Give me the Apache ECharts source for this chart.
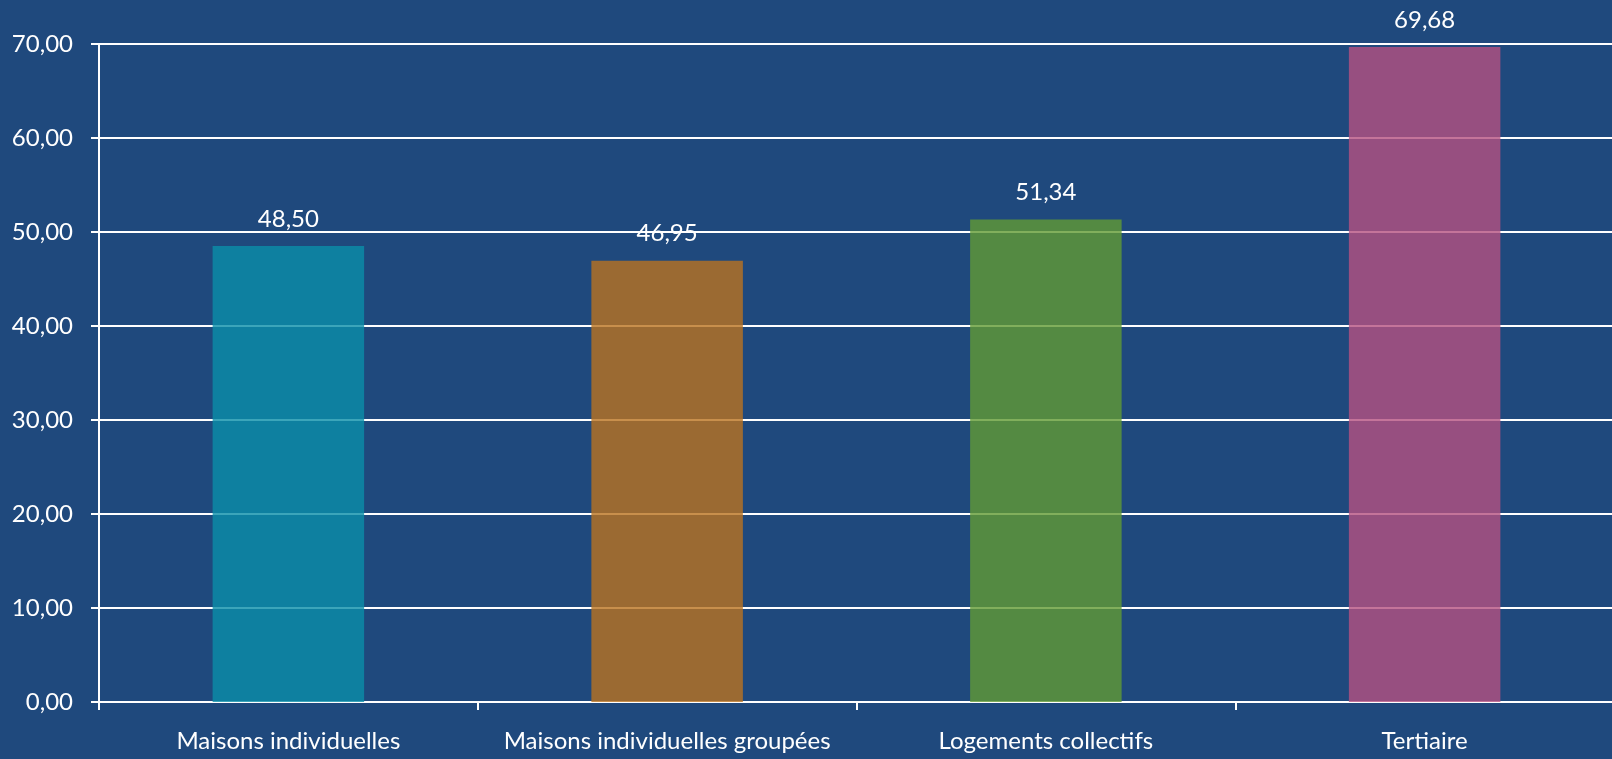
<!DOCTYPE html>
<html>
<head>
<meta charset="utf-8">
<script src="https://cdn.jsdelivr.net/npm/echarts@6/dist/echarts.min.js"></script>
<style>
html,body{margin:0;padding:0;background:#1F497D;}
#chart{width:1612px;height:759px;}
</style>
</head>
<body>
<div id="chart"></div>
<script>
const categories = ['Maisons individuelles', 'Maisons individuelles groupées', 'Logements collectifs', 'Tertiaire'];
const values = [48.50, 46.95, 51.34, 69.68];
const barColors = ['rgba(10,143,169,0.8)', 'rgba(186,115,31,0.8)', 'rgba(97,155,51,0.8)', 'rgba(181,81,129,0.8)'];
const yTicks = { min: 0, max: 70, interval: 10 };

const fmt = v => Number(v).toFixed(2).replace('.', ',');
const FONT = 'Lato, "Open Sans", sans-serif';

const chart = echarts.init(document.getElementById('chart'));
chart.setOption({
  backgroundColor: '#1F497D',
  animation: false,
  grid: { left: 99, top: 44, width: 1515, height: 658, containLabel: false, outerBoundsMode: 'none' },
  xAxis: {
    type: 'category',
    data: categories,
    axisLine: { show: true, lineStyle: { color: '#FFFFFF', width: 2 } },
    axisTick: { show: true, length: 8, lineStyle: { color: '#FFFFFF', width: 2 } },
    axisLabel: { color: '#FFFFFF', fontFamily: FONT, fontSize: 24, margin: 27, interval: 0 },
    splitLine: { show: false }
  },
  yAxis: {
    type: 'value',
    min: yTicks.min, max: yTicks.max, interval: yTicks.interval,
    axisLine: { show: true, lineStyle: { color: '#FFFFFF', width: 2 } },
    axisTick: { show: true, length: 8, lineStyle: { color: '#FFFFFF', width: 2 } },
    axisLabel: { color: '#FFFFFF', fontFamily: FONT, fontSize: 24, margin: 26, formatter: fmt },
    splitLine: { show: true, lineStyle: { color: '#FFFFFF', width: 2 } }
  },
  series: [{
    type: 'bar',
    data: values.map((v, i) => ({ value: v, itemStyle: { color: barColors[i] } })),
    barWidth: '40%',
    label: {
      show: true, position: 'top', distance: 15,
      color: '#FFFFFF', fontFamily: FONT, fontSize: 24,
      formatter: p => fmt(p.value)
    }
  }]
});
</script>
</body>
</html>
